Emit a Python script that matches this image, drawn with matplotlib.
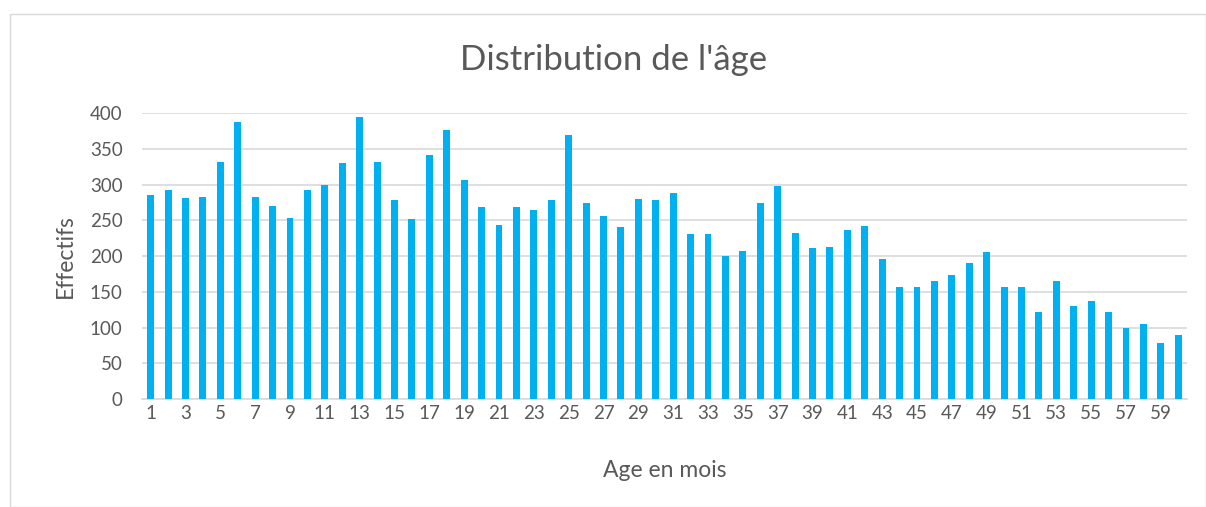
import numpy as np
import matplotlib
matplotlib.use('Agg')
import matplotlib.pyplot as plt
from matplotlib.patches import Rectangle

# Age in months (categories) and counts
ages = np.arange(1, 61)
effectifs = [285, 292, 281, 283, 331, 387, 283, 270, 253, 292,
             299, 330, 394, 332, 278, 252, 341, 376, 306, 268,
             243, 268, 264, 278, 370, 274, 256, 240, 280, 278,
             288, 231, 231, 200, 207, 274, 298, 232, 211, 212,
             236, 242, 196, 157, 157, 165, 174, 190, 206, 156,
             157, 122, 165, 130, 137, 122, 99, 105, 78, 90]
y_ticks = [0, 50, 100, 150, 200, 250, 300, 350, 400]

plt.rcParams['font.family'] = ['Lato', 'DejaVu Sans']
text_color = '#595959'

fig = plt.figure(figsize=(12.06, 5.07), dpi=100)
ax = fig.add_axes([0.1177, 0.213, 0.8665, 0.564])

# chart border like an Excel chart area
fig.patches.append(Rectangle((10 / 1206, 0), 1 - 10 / 1206, 1 - 14 / 507,
                             transform=fig.transFigure, fill=False,
                             edgecolor='#D9D9D9', linewidth=1))

ax.bar(ages, effectifs, width=0.4, color='#00B0F0', zorder=3)

ax.set_xlim(0.5, 60.5)
ax.set_ylim(0, 400)
ax.set_yticks(y_ticks)
ax.set_xticks(ages[::2])
ax.tick_params(axis='both', length=0, labelsize=13.5, colors=text_color)
ax.tick_params(axis='x', pad=4)
ax.tick_params(axis='y', pad=14)

ax.grid(axis='y', color='#D9D9D9', linewidth=1.2, zorder=0)
for side in ['top', 'right', 'left']:
    ax.spines[side].set_visible(False)
ax.spines['bottom'].set_color('#D9D9D9')
ax.spines['bottom'].set_linewidth(1.2)

fig.text(614 / 1206, 1 - 60 / 507, "Distribution de l'âge", fontsize=25,
         color=text_color, ha='center', va='center')
ax.set_xlabel('Age en mois', fontsize=16.5, color=text_color, labelpad=28)
ax.set_ylabel('Effectifs', fontsize=16.5, color=text_color, labelpad=10)

fig.savefig('out.png', dpi=100)
